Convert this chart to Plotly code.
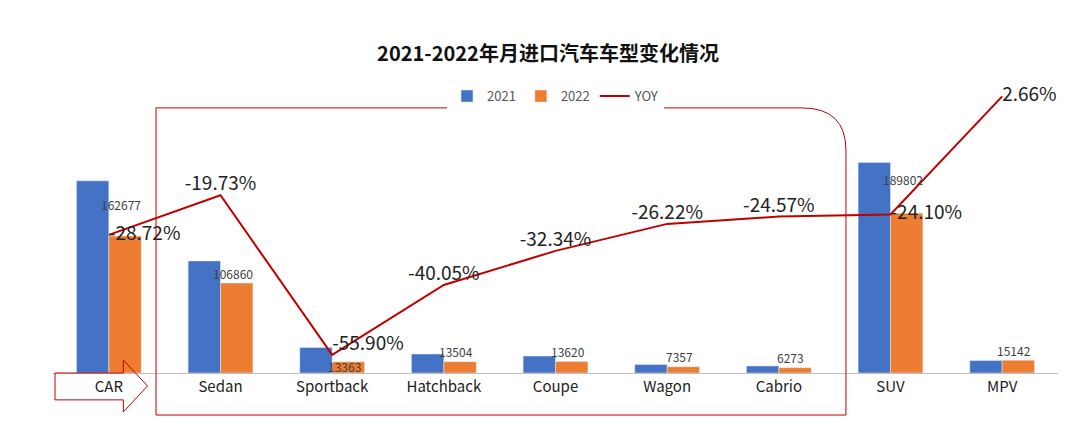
import plotly.graph_objects as go

categories = ["CAR", "Sedan", "Sportback", "Hatchback", "Coupe", "Wagon", "Cabrio", "SUV", "MPV"]
sales_2021 = [228200, 133100, 30300, 22500, 20100, 9970, 8320, 250100, 14750]
sales_2022 = [162677, 106860, 13363, 13504, 13620, 7357, 6273, 189802, 15142]
yoy = [-28.72, -19.73, -55.90, -40.05, -32.34, -26.22, -24.57, -24.10, 2.66]

yoy_pos = ["middle right", "top center", "top right", "top center", "top center",
           "top center", "top center", "middle right", "middle right"]
label_lift = [32, 10, -5, 10, 10, 10, 10, 34, 10]

fig = go.Figure()
fig.add_trace(go.Bar(x=categories, y=sales_2021, name="2021", marker_color="#4472C4"))
fig.add_trace(go.Bar(x=categories, y=sales_2022, name="2022", marker_color="#ED7D31"))
fig.add_trace(go.Scatter(x=categories, y=yoy, name="YOY", yaxis="y2", mode="lines+text",
                         line=dict(color="#C00000", width=2),
                         text=["%.2f%%" % v for v in yoy], textposition=yoy_pos,
                         textfont=dict(size=19, color="#222"), cliponaxis=False))

for c, v, s in zip(categories, sales_2022, label_lift):
    fig.add_annotation(x=c, y=v, text=str(v), showarrow=False, xshift=12, yshift=s,
                       font=dict(size=12, color="#404040"))

fig.update_layout(
    width=1080, height=437,
    paper_bgcolor="white", plot_bgcolor="white",
    font=dict(family="Noto Sans CJK SC, Noto Sans", color="#333"),
    title=dict(text="<b>2021-2022年月进口汽车车型变化情况</b>", x=0.5, y=0.895, xanchor="center",
               yanchor="middle", font=dict(size=20, color="#111")),
    margin=dict(l=45, r=30, t=56, b=72, autoexpand=False),
    barmode="group", bargap=0.42, bargroupgap=0,
    legend=dict(orientation="h", x=0.5, xanchor="center", y=0.896, yanchor="middle",
                font=dict(size=13, color="#555")),
    xaxis=dict(showline=True, linecolor="#BFBFBF", tickfont=dict(size=15, color="#222"), ticks=""),
    yaxis=dict(visible=False, range=[0, 367000]),
    yaxis2=dict(visible=False, overlaying="y", range=[-60, 10]),
    shapes=[
        dict(type="path", xref="paper", yref="paper",
             path="M 0.1025,0.858 L 0.745,0.858 Q 0.789,0.858 0.789,0.72 L 0.789,-0.136 L 0.1025,-0.136 Z",
             line=dict(color="#C00000", width=1)),
        dict(type="path", xref="paper", yref="paper",
             path="M 0.002,-0.0 L 0.07,-0.0 L 0.07,0.042 L 0.094,-0.042 L 0.07,-0.126 L 0.07,-0.087 L 0.002,-0.087 Z",
             line=dict(color="#C00000", width=1)),
    ],
)
fig.write_html("out.html")
